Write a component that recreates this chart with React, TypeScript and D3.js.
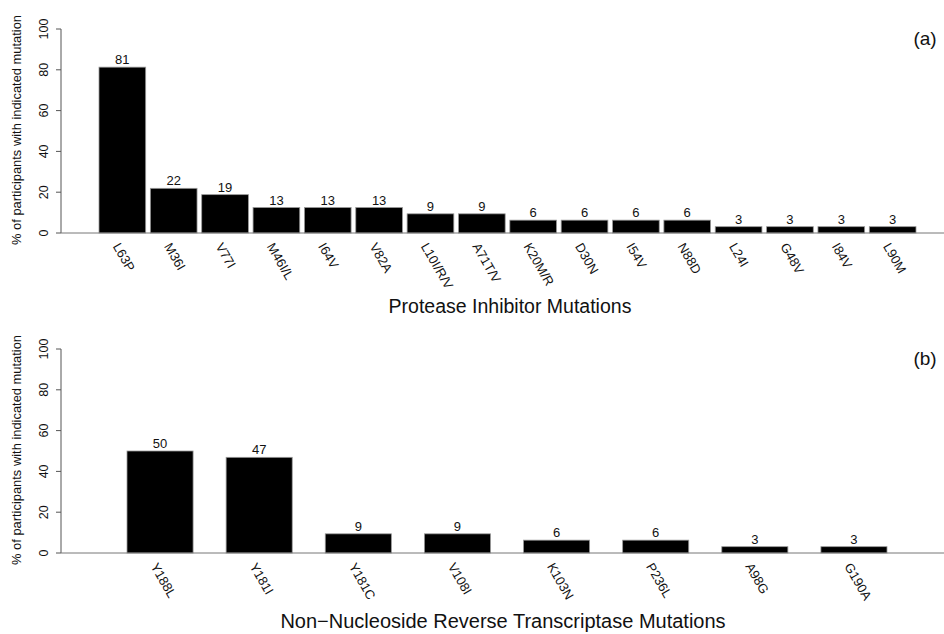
import * as d3 from 'd3';

// Panel (a): protease inhibitor mutations
const piMutations = ['L63P', 'M36I', 'V77I', 'M46I/L', 'I64V', 'V82A', 'L10I/R/V', 'A71T/V',
  'K20M/R', 'D30N', 'I54V', 'N88D', 'L24I', 'G48V', 'I84V', 'L90M'];
const piPercent = [81.3, 21.9, 18.8, 12.5, 12.5, 12.5, 9.4, 9.4, 6.3, 6.3, 6.3, 6.3, 3.1, 3.1, 3.1, 3.1];

// Panel (b): NNRTI mutations
const nnrtiMutations = ['Y188L', 'Y181I', 'Y181C', 'V108I', 'K103N', 'P236L', 'A98G', 'G190A'];
const nnrtiPercent = [50, 46.9, 9.4, 9.4, 6.3, 6.3, 3.1, 3.1];

const yTicks = [0, 20, 40, 60, 80, 100];

const W = 944;
const H = 634;
const FONT = '"Liberation Sans", Arial, Helvetica, sans-serif';

type PanelProps = {
  top: number;
  cats: string[];
  vals: number[];
  barRange: [number, number];
  pad: number;
  title: string;
  titleX: number;
  titleY: number;
  titleSize: number;
  tag: string;
};

function Panel({ top, cats, vals, barRange, pad, title, titleX, titleY, titleSize, tag }: PanelProps) {
  const axisX = 61;
  const y = d3.scaleLinear().domain([0, 100]).range([top + 204, top]);
  const x = d3.scaleBand<string>().domain(cats).range(barRange).paddingInner(pad).paddingOuter(0);
  const base = y(0);

  return (
    <g fontFamily={FONT}>
      {/* y axis */}
      <line x1={axisX} x2={axisX} y1={y(100)} y2={y(0)} stroke="#555" />
      {yTicks.map((t) => (
        <g key={t}>
          <line x1={axisX - 5} x2={axisX} y1={y(t)} y2={y(t)} stroke="#555" />
          <text
            transform={`translate(${axisX - 13},${y(t)}) rotate(-90)`}
            textAnchor="middle"
            fontSize={12.5}
            fill="#111"
          >
            {t}
          </text>
        </g>
      ))}
      <text
        transform={`translate(21,${(y(0) + y(100)) / 2 - 1}) rotate(-90)`}
        textAnchor="middle"
        fontSize={12.9}
        fill="#111"
      >
        % of participants with indicated mutation
      </text>

      {/* bars */}
      {cats.map((c, i) => (
        <g key={c}>
          <rect
            x={x(c)}
            y={y(vals[i])}
            width={x.bandwidth()}
            height={base - y(vals[i])}
            fill="#000"
            stroke="#999"
            strokeWidth={0.8}
          />
          <text
            x={(x(c) as number) + x.bandwidth() / 2}
            y={y(vals[i]) - 3}
            textAnchor="middle"
            fontSize={13}
            fill="#111"
          >
            {Math.round(vals[i])}
          </text>
          <text
            transform={`translate(${(x(c) as number) + x.bandwidth() / 2 - 6},${base + 11}) rotate(60)`}
            textAnchor="start"
            dominantBaseline="central"
            fontSize={13}
            fill="#111"
          >
            {c}
          </text>
        </g>
      ))}

      {/* baseline */}
      <line x1={axisX} x2={W} y1={base} y2={base} stroke="#777" />

      <text x={titleX} y={titleY} textAnchor="middle" fontSize={titleSize} fill="#111">
        {title}
      </text>
      <text x={925} y={top + 16} textAnchor="middle" fontSize={19} fill="#111">
        {tag}
      </text>
    </g>
  );
}

export default function App() {
  return (
    <svg
      width={W}
      height={H}
      style={{ position: 'absolute', left: 0, top: 0, background: '#fff' }}
    >
      <rect width={W} height={H} fill="#fff" />
      <Panel
        top={29}
        cats={piMutations}
        vals={piPercent}
        barRange={[99, 916]}
        pad={0.1 / 1.1}
        title="Protease Inhibitor Mutations"
        titleX={510}
        titleY={313}
        titleSize={19.5}
        tag="(a)"
      />
      <Panel
        top={349}
        cats={nnrtiMutations}
        vals={nnrtiPercent}
        barRange={[127, 887]}
        pad={0.5 / 1.5}
        title="Non−Nucleoside Reverse Transcriptase Mutations"
        titleX={503}
        titleY={628}
        titleSize={20}
        tag="(b)"
      />
    </svg>
  );
}
